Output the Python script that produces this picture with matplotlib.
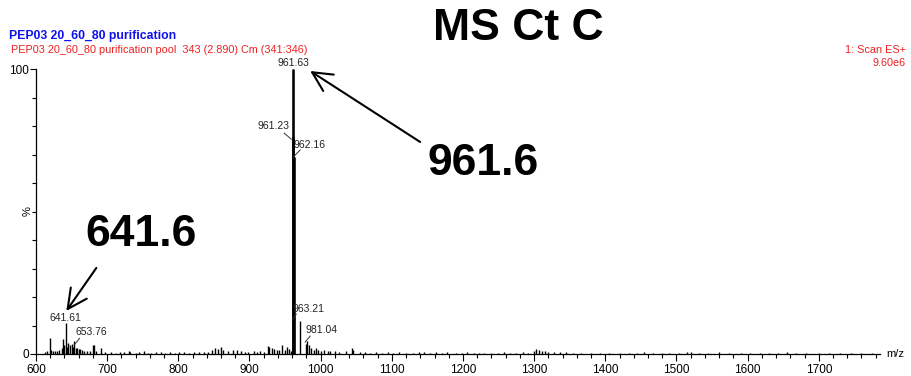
import matplotlib
matplotlib.use("Agg")
import matplotlib.pyplot as plt
from matplotlib.ticker import MultipleLocator, FixedLocator

plt.rcParams['font.family'] = ['Liberation Sans', 'DejaVu Sans']

# ---- spectrum data: m/z and relative intensity (%) ----
main_mz = [961.23, 961.63, 962.16, 963.21, 970.8, 979.5, 981.04, 983.0]
main_int = [76.0, 100.0, 69.0, 14.0, 11.5, 3.5, 4.5, 3.0]

low_mz = [612.0, 616.0, 619.5, 621.0, 624.0, 627.0, 630.0, 633.0, 636.0, 637.5,
          640.0, 641.61, 643.0, 645.5, 648.0, 650.5, 652.0, 653.76, 656.0, 658.0,
          660.0, 662.0, 665.0, 668.0, 672.0, 676.0, 680.5, 682.0, 685.0, 691.0,
          697.0]
low_int = [0.8, 1.0, 5.6, 1.5, 0.9, 1.0, 1.2, 1.5, 2.0, 5.2,
           3.2, 11.0, 2.5, 4.0, 3.0, 3.5, 2.5, 4.5, 2.2, 2.0,
           1.6, 1.8, 1.5, 1.2, 1.0, 1.2, 3.3, 3.0, 1.0, 2.0,
           0.8]

mid_mz = [705.0, 712.0, 718.0, 723.0, 730.0, 732.0, 740.0, 745.0, 752.0, 757.0,
          762.0, 768.0, 775.0, 781.0, 788.0, 795.0, 801.0, 808.0, 815.0, 822.0,
          829.0, 836.0, 842.0, 848.0, 852.0, 856.0, 860.0, 863.0, 870.0, 877.0,
          882.0, 888.0, 893.0, 898.0, 906.0, 911.0, 915.0, 920.0, 926.0, 928.0,
          931.0, 934.0, 938.0, 941.0, 945.5, 950.0, 953.0, 956.0, 959.0]
mid_int = [0.6, 0.5, 0.8, 0.6, 1.1, 0.8, 0.5, 0.6, 0.9, 0.5,
           0.5, 0.6, 0.7, 0.5, 0.6, 0.5, 0.7, 0.6, 0.5, 0.6,
           0.7, 0.6, 0.8, 1.5, 2.2, 1.8, 2.5, 1.5, 1.2, 1.3,
           1.5, 1.0, 0.7, 0.8, 1.0, 0.7, 1.2, 0.8, 2.8, 2.3,
           2.0, 1.8, 1.5, 1.4, 3.0, 1.5, 2.5, 1.8, 1.2]

high_mz = [986.0, 990.0, 993.0, 996.0, 1000.0, 1004.0, 1010.0, 1013.0, 1020.0, 1026.0,
           1035.0, 1044.0, 1046.0, 1055.0, 1062.0, 1070.0, 1078.0, 1086.0, 1095.0, 1102.0,
           1110.0, 1120.0, 1130.0, 1138.0, 1145.0, 1153.0, 1162.0, 1170.0, 1178.0, 1190.0,
           1198.0, 1205.0, 1215.0, 1222.0, 1230.0, 1240.0, 1249.0, 1258.0, 1266.0, 1275.0,
           1284.0, 1292.0, 1300.0, 1303.0, 1307.0, 1311.0, 1315.0, 1320.0, 1328.0, 1336.0,
           1345.0, 1355.0, 1366.0, 1380.0, 1392.0, 1405.0, 1420.0, 1433.0, 1445.0, 1455.0,
           1467.0, 1480.0, 1490.0, 1503.0, 1515.0, 1520.0, 1532.0, 1545.0, 1560.0, 1574.0,
           1590.0, 1604.0, 1617.0, 1630.0, 1642.0, 1655.0, 1668.0, 1682.0, 1700.0, 1714.0,
           1730.0, 1745.0, 1760.0, 1775.0]
high_int = [2.2, 1.5, 2.0, 1.5, 1.2, 1.4, 1.0, 1.2, 1.0, 0.8,
            0.9, 2.2, 1.5, 0.8, 0.7, 0.5, 0.6, 0.5, 0.7, 0.5,
            0.6, 0.5, 0.5, 0.6, 0.6, 0.5, 0.7, 0.5, 0.6, 0.5,
            0.5, 0.6, 0.5, 0.5, 0.5, 0.4, 0.5, 0.6, 0.5, 0.5,
            0.6, 0.5, 1.0, 1.6, 1.3, 1.2, 1.0, 0.8, 0.7, 0.6,
            0.6, 0.5, 0.5, 0.5, 0.4, 0.5, 0.5, 0.4, 0.5, 0.6,
            0.4, 0.5, 0.5, 0.4, 0.8, 0.6, 0.4, 0.5, 0.6, 0.4,
            0.5, 0.4, 0.5, 0.5, 0.4, 0.6, 0.4, 0.5, 0.5, 0.4,
            0.5, 0.4, 0.4, 0.4]

# labelled peaks: text, label anchor (m/z, %), horizontal alignment, leader line or None
peak_labels = [
    ("961.63", (961.63, 102.1), "center", None),
    ("961.23", (955.8, 80.0), "right", ((948.8, 77.5), (958.6, 75.4))),
    ("962.16", (961.5, 73.3), "left", ((961.5, 69.1), (971.3, 71.6))),
    ("963.21", (961.0, 15.8), "left", ((960.0, 11.9), (965.7, 14.0))),
    ("981.04", (978.3, 8.4), "left", ((978.3, 4.2), (985.3, 6.3))),
    ("641.61", (641.61, 12.5), "center", None),
    ("653.76", (655.3, 7.8), "left", ((654.3, 3.4), (661.3, 5.5))),
]

x_major = [600, 700, 800, 900, 1000, 1100, 1200, 1300, 1400, 1500, 1600, 1700]

# ---- figure ----
W, H = 912, 376
fig = plt.figure(figsize=(W / 100, H / 100), dpi=100)
ax = fig.add_axes([36 / W, 1 - 354 / H, (880 - 36) / W, (354 - 69) / H])

all_mz = main_mz + low_mz + mid_mz + high_mz
all_int = main_int + low_int + mid_int + high_int
ax.vlines(all_mz, 0, all_int, colors="black", linewidth=1.0)
ax.vlines(main_mz[:3], 0, main_int[:3], colors="black", linewidth=1.8)

ax.set_xlim(600, 1786)
ax.set_ylim(0, 100)

for side in ("top", "right"):
    ax.spines[side].set_visible(False)
for side in ("left", "bottom"):
    ax.spines[side].set_linewidth(0.9)

ax.xaxis.set_major_locator(FixedLocator(x_major))
ax.xaxis.set_minor_locator(MultipleLocator(20))
ax.set_xticklabels([str(v) for v in x_major])
ax.yaxis.set_major_locator(FixedLocator([0, 100]))
ax.yaxis.set_minor_locator(MultipleLocator(10))
ax.set_yticklabels(["0", "100"])
ax.tick_params(axis="x", which="major", length=5, width=0.8, labelsize=8.5, pad=2)
ax.tick_params(axis="x", which="minor", length=3, width=0.8)
ax.tick_params(axis="y", which="major", length=4, width=0.8, labelsize=8.5, pad=1)
ax.tick_params(axis="y", which="minor", length=3, width=0.8)

for text, (tx, ty), ha, leader in peak_labels:
    ax.text(tx, ty, text, ha=ha, va="center", fontsize=7.5, color="#222222",
            clip_on=False)
    if leader is not None:
        (x0, y0), (x1, y1) = leader
        ax.plot([x0, x1], [y0, y1], color="#333333", linewidth=0.7, clip_on=False)

# big callouts with open arrows
ax.text(1228.3, 67.0, "961.6", ha="center", va="center", fontsize=32,
        fontweight="bold")
ax.text(748.0, 42.1, "641.6", ha="center", va="center", fontsize=32,
        fontweight="bold")
arrow = dict(arrowstyle="->,head_length=1.4,head_width=0.7", lw=1.5, color="black",
             shrinkA=0, shrinkB=0)
ax.annotate("", xy=(985.3, 99.3), xytext=(1139.8, 74.4), arrowprops=arrow,
            annotation_clip=False)
ax.annotate("", xy=(642.6, 15.1), xytext=(684.8, 30.2), arrowprops=arrow,
            annotation_clip=False)

# header texts
fig.text(518 / W, 1 - 29 / H, "MS Ct C", ha="center", va="center", fontsize=32,
         fontweight="bold")
fig.text(9 / W, 1 - 36 / H, "PEP03 20_60_80 purification", ha="left", va="center",
         fontsize=8.8, fontweight="bold", color="#1010ee")
fig.text(11 / W, 1 - 50 / H,
         "PEP03 20_60_80 purification pool  343 (2.890) Cm (341:346)",
         ha="left", va="center", fontsize=7.8, color="#ee2020")
fig.text(906 / W, 1 - 50 / H, "1: Scan ES+", ha="right", va="center",
         fontsize=7.8, color="#ee2020")
fig.text(906 / W, 1 - 63 / H, "9.60e6", ha="right", va="center",
         fontsize=7.8, color="#ee2020")

fig.text(28 / W, 1 - 211 / H, "%", ha="center", va="center", rotation=90,
         fontsize=8)
fig.text(886 / W, 1 - 354 / H, "m/z", ha="left", va="center", fontsize=8)

fig.savefig("out.png", dpi=100, facecolor="white")
